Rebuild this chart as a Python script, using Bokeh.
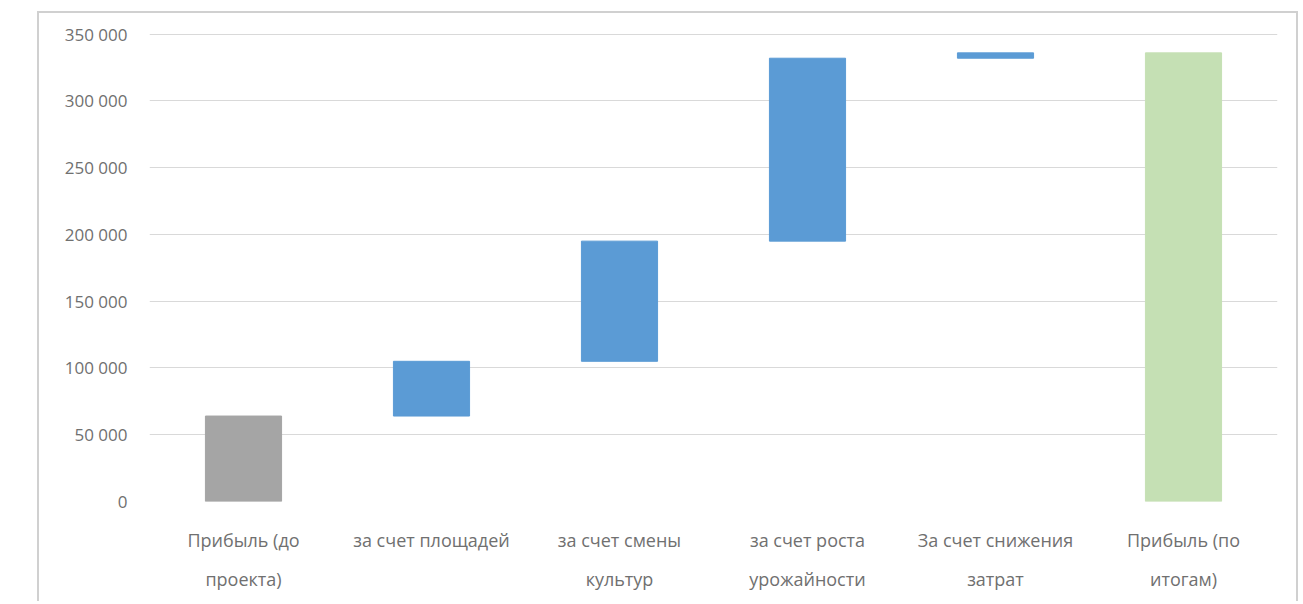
from bokeh.plotting import figure
from bokeh.models import CustomJSTickFormatter, FixedTicker, ColumnDataSource
from bokeh.embed import file_html
from bokeh.resources import INLINE

categories = ["Прибыль (до\nпроекта)", "за счет площадей", "за счет смены\nкультур",
              "за счет роста\nурожайности", "За счет снижения\nзатрат", "Прибыль (по\nитогам)"]
start_value = 64000
deltas = [41000, 90000, 137000, 4000]
final_value = 336000
colors = ["#a5a5a5", "#5b9bd5", "#5b9bd5", "#5b9bd5", "#5b9bd5", "#c5e0b4"]
y_ticks = [0, 50000, 100000, 150000, 200000, 250000, 300000, 350000]

bottoms = [0]
tops = [start_value]
run = start_value
for d in deltas:
    bottoms.append(run)
    run += d
    tops.append(run)
bottoms.append(0)
tops.append(final_value)

src = ColumnDataSource(dict(cat=categories, bottom=bottoms, top=tops, color=colors))

FONT = "Open Sans"
p = figure(x_range=categories, y_range=(0, 352000), width=1261, height=590,
           output_backend="svg", toolbar_location=None,
           min_border_left=110, min_border_right=23, min_border_top=18, min_border_bottom=102)
p.margin = (11, 0, 0, 37)
p.styles = {"border-left": "2px solid #d0d0d0", "border-top": "2px solid #d0d0d0",
            "border-right": "2px solid #d0d0d0"}
p.outline_line_color = None
p.background_fill_color = "white"

p.vbar(x="cat", bottom="bottom", top="top", width=0.405, color="color", source=src)

p.yaxis.ticker = FixedTicker(ticks=y_ticks)
p.yaxis.formatter = CustomJSTickFormatter(code="""
return tick.toString().replace(/\\B(?=(\\d{3})+(?!\\d))/g, " ");
""")
for ax in (p.xaxis, p.yaxis):
    ax.axis_line_color = None
    ax.major_tick_line_color = None
    ax.minor_tick_line_color = None
    ax.major_label_text_font = FONT
    ax.major_label_text_color = "#707070"
p.yaxis.major_label_text_font_size = "17px"
p.yaxis.major_label_standoff = 16
p.xaxis.major_label_text_font_size = "18px"
p.xaxis.major_label_text_line_height = 1.65
p.xaxis.major_label_standoff = 20

p.xgrid.grid_line_color = None
p.ygrid.grid_line_color = "#d9d9d9"
p.ygrid.ticker = FixedTicker(ticks=y_ticks)

open("out.html", "w").write(file_html(p, INLINE))
